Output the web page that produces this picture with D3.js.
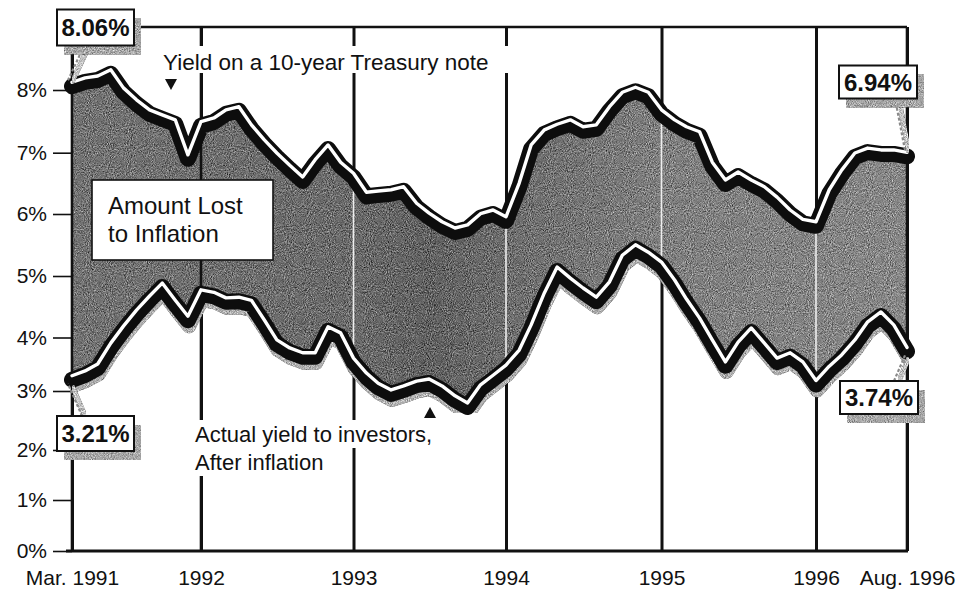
<!DOCTYPE html>
<html>
<head>
<meta charset="utf-8">
<script src="https://cdn.jsdelivr.net/npm/d3@7"></script>
<style>
  html, body { margin: 0; padding: 0; background: #fff; }
  svg { display: block; font-family: "Liberation Sans", Arial, Helvetica, sans-serif; }
</style>
</head>
<body>
<svg id="chart" width="963" height="590"></svg>
<script>
// Monthly observations, March 1991 through August 1996
const months = d3.timeMonth.range(new Date(1991, 2, 1), new Date(1996, 8, 1));

// Yield on a 10-year Treasury note (%)
const treasuryYield = [
  8.06, 8.13, 8.16, 8.26, 7.97, 7.78, 7.62, 7.54, 7.46, 6.90,
  7.43, 7.49, 7.62, 7.67, 7.38, 7.14, 6.93, 6.73, 6.54, 6.82, 7.06, 6.78,
  6.60, 6.29, 6.31, 6.33, 6.38, 6.11, 5.95, 5.81, 5.71, 5.76, 5.94, 6.00,
  5.89, 6.44, 7.06, 7.30, 7.39, 7.46, 7.35, 7.38, 7.67, 7.90, 7.98, 7.90,
  7.62, 7.46, 7.35, 7.27, 6.78, 6.49, 6.62, 6.49, 6.38, 6.21, 6.00, 5.85,
  5.81, 6.33, 6.65, 6.93, 7.01, 6.98, 6.98, 6.94
];

// Actual yield to investors after inflation (%)
const realYield = [
  3.21, 3.30, 3.43, 3.82, 4.12, 4.38, 4.61, 4.82, 4.54, 4.28,
  4.71, 4.67, 4.58, 4.59, 4.54, 4.22, 3.88, 3.73, 3.64, 3.64, 4.11, 4.01,
  3.54, 3.26, 3.07, 2.95, 3.02, 3.11, 3.15, 3.02, 2.85, 2.73, 3.04, 3.22,
  3.41, 3.69, 4.14, 4.66, 5.08, 4.90, 4.74, 4.59, 4.84, 5.27, 5.44, 5.32,
  5.16, 4.87, 4.56, 4.25, 3.88, 3.47, 3.84, 4.09, 3.82, 3.54, 3.64, 3.47,
  3.12, 3.39, 3.60, 3.88, 4.19, 4.35, 4.14, 3.74
];

// Axis ticks
const yearTicks = [
  new Date(1991, 2, 1), new Date(1992, 0, 1), new Date(1993, 0, 1),
  new Date(1994, 0, 1), new Date(1995, 0, 1), new Date(1996, 0, 1),
  new Date(1996, 7, 1)
];
const yearLabels = ["Mar. 1991", "1992", "1993", "1994", "1995", "1996", "Aug. 1996"];
const percentTicks = [0, 1, 2, 3, 4, 5, 6, 7, 8];

const data = months.map((d, i) => ({ date: d, top: treasuryYield[i], bottom: realYield[i] }));

// ---- layout ----
const plotLeft = 72, plotRight = 907, plotTop = 27, plotBottom = 551;

const x = d3.scaleTime()
  .domain(yearTicks)
  .range([72, 201, 353.5, 506, 661.5, 816, 907]);

// the printed percent scale is not evenly spaced, so map tick by tick
const y = d3.scaleLinear()
  .domain(percentTicks)
  .range([551, 500, 450, 391, 337.5, 276, 214, 152.7, 90]);

const svg = d3.select("#chart");
const defs = svg.append("defs");

// halftone-like grain: opaque grey noise added around the fill colour
const grain = defs.append("filter").attr("id", "grain")
  .attr("x", 0).attr("y", 0).attr("width", 1).attr("height", 1)
  .attr("color-interpolation-filters", "sRGB");
grain.append("feTurbulence").attr("type", "fractalNoise")
  .attr("baseFrequency", 0.95).attr("numOctaves", 2).attr("seed", 5).attr("result", "n");
grain.append("feColorMatrix").attr("in", "n").attr("type", "matrix")
  .attr("values", "0.33 0.33 0.33 0 0  0.33 0.33 0.33 0 0  0.33 0.33 0.33 0 0  0 0 0 0 1")
  .attr("result", "g");
grain.append("feComposite").attr("in", "SourceGraphic").attr("in2", "g")
  .attr("operator", "arithmetic").attr("k1", 0).attr("k2", 1).attr("k3", 1.4).attr("k4", -0.7).attr("result", "m");
grain.append("feComposite").attr("in", "m").attr("in2", "SourceGraphic").attr("operator", "in");

// shading of the band darkens through 1993 and lightens afterwards
const shade = defs.append("linearGradient").attr("id", "bandShade")
  .attr("gradientUnits", "userSpaceOnUse")
  .attr("x1", plotLeft).attr("x2", plotRight).attr("y1", 0).attr("y2", 0);
[
  [new Date(1991, 2, 1), "#747474"],
  [new Date(1993, 0, 1), "#6c6c6c"],
  [new Date(1993, 6, 1), "#626262"],
  [new Date(1994, 0, 1), "#6e6e6e"],
  [new Date(1995, 0, 1), "#808080"],
  [new Date(1996, 7, 1), "#888888"]
].forEach(([d, c]) => {
  shade.append("stop").attr("offset", (x(d) - plotLeft) / (plotRight - plotLeft)).attr("stop-color", c);
});

const band = d3.area()
  .x(d => x(d.date))
  .y0(d => y(d.bottom))
  .y1(d => y(d.top));

defs.append("clipPath").attr("id", "bandClip")
  .append("path").attr("d", band(data));

// ---- year grid lines and x axis ----
const xAxis = d3.axisBottom(x)
  .tickValues(yearTicks)
  .tickSizeInner(-(plotBottom - plotTop))
  .tickSizeOuter(0)
  .tickFormat((d, i) => yearLabels[i]);

const gx = svg.append("g").attr("transform", `translate(0,${plotBottom})`).call(xAxis);
gx.select(".domain").remove();
gx.selectAll(".tick line").attr("stroke", "#111").attr("stroke-width", 3);
gx.selectAll(".tick text")
  .attr("y", 34).attr("dy", 0)
  .attr("fill", "#111").attr("font-size", 21)
  .attr("font-family", "'Liberation Sans', Arial, sans-serif");

// ---- shaded band (amount lost to inflation) ----
svg.append("path")
  .attr("d", band(data))
  .attr("fill", "url(#bandShade)")
  .attr("filter", "url(#grain)");

// inside the band the later year rules show as pale lines
svg.append("g").attr("clip-path", "url(#bandClip)")
  .selectAll("line")
  .data(yearTicks.slice(2, 6))
  .join("line")
  .attr("x1", d => x(d)).attr("x2", d => x(d))
  .attr("y1", plotTop).attr("y2", plotBottom)
  .attr("stroke", "#eeeeee").attr("stroke-width", 1.6);

svg.append("g")
  .selectAll("line")
  .data([yearTicks[0], yearTicks[1], yearTicks[6]])
  .join("line")
  .attr("x1", d => x(d)).attr("x2", d => x(d))
  .attr("y1", plotTop).attr("y2", plotBottom)
  .attr("stroke", "#111").attr("stroke-width", 2.6);

// frame: top rule and baseline
svg.append("line").attr("x1", plotLeft).attr("x2", plotRight).attr("y1", plotTop).attr("y2", plotTop)
  .attr("stroke", "#111").attr("stroke-width", 2.4);
svg.append("line").attr("x1", 66).attr("x2", plotRight + 1).attr("y1", plotBottom).attr("y2", plotBottom)
  .attr("stroke", "#111").attr("stroke-width", 3);

// ---- y axis ----
const yAxis = d3.axisLeft(y)
  .tickValues(percentTicks)
  .tickSizeInner(19)
  .tickSizeOuter(0)
  .tickPadding(6)
  .tickFormat(d => d + "%");
const gy = svg.append("g").attr("transform", `translate(${plotLeft},0)`).call(yAxis);
gy.select(".domain").remove();
gy.selectAll(".tick line").attr("stroke", "#111").attr("stroke-width", 1.6);
gy.selectAll(".tick text")
  .attr("fill", "#111").attr("font-size", 21)
  .attr("font-family", "'Liberation Sans', Arial, sans-serif");

// ---- ribbon lines ----
const lineTop = d3.line().x(d => x(d.date)).y(d => y(d.top));
const lineBottom = d3.line().x(d => x(d.date)).y(d => y(d.bottom));

function ribbon(gen, withShadow) {
  const g = svg.append("g");
  if (withShadow) {
    g.append("path").attr("d", gen(data))
      .attr("transform", "translate(1,6)")
      .attr("fill", "none").attr("stroke", "#b0b0b0").attr("stroke-width", 14)
      .attr("stroke-linejoin", "round").attr("stroke-linecap", "round")
      .attr("filter", "url(#grain)");
  }
  g.append("path").attr("d", gen(data))
    .attr("fill", "none").attr("stroke", "#0d0d0d").attr("stroke-width", 16)
    .attr("stroke-linejoin", "round").attr("stroke-linecap", "round");
  g.append("path").attr("d", gen(data))
    .attr("transform", "translate(0,-4)")
    .attr("fill", "none").attr("stroke", "#ffffff").attr("stroke-width", 3.4)
    .attr("stroke-linejoin", "round").attr("stroke-linecap", "round");
}
ribbon(lineTop, false);
ribbon(lineBottom, true);

// ---- annotations ----
const fmt = v => d3.format(".2f")(v) + "%";
const first = data[0], last = data[data.length - 1];

function leader(x1, y1, x2, y2) {
  svg.append("line").attr("x1", x1 + 4).attr("y1", y1 + 2).attr("x2", x2 + 4).attr("y2", y2 + 2)
    .attr("stroke", "#c4c4c4").attr("stroke-width", 5).attr("filter", "url(#grain)");
  svg.append("line").attr("x1", x1).attr("y1", y1).attr("x2", x2).attr("y2", y2)
    .attr("stroke", "#8a8a8a").attr("stroke-width", 2.2).attr("stroke-dasharray", "3,2");
}

function valueBox(bx, by, bw, bh, value) {
  svg.append("rect").attr("x", bx + 7).attr("y", by + 9).attr("width", bw).attr("height", bh)
    .attr("fill", "#a8a8a8").attr("filter", "url(#grain)");
  svg.append("rect").attr("x", bx).attr("y", by).attr("width", bw).attr("height", bh)
    .attr("fill", "#fff").attr("stroke", "#111").attr("stroke-width", 2);
  svg.append("text").attr("x", bx + bw / 2).attr("y", by + bh / 2 + 8.5)
    .attr("text-anchor", "middle").attr("font-size", 24).attr("font-weight", "bold")
    .attr("fill", "#111").text(fmt(value));
}

leader(84, 46, x(first.date) - 4, y(first.top) - 6);
leader(82, 416, x(first.date) - 4, y(first.bottom) + 4);
leader(895, 98, x(last.date) - 2, y(last.top) - 6);
leader(894, 381, x(last.date) - 2, y(last.bottom) + 4);

valueBox(57, 9.5, 77, 36, first.top);
valueBox(57, 416, 77, 35, first.bottom);
valueBox(839, 65.5, 78, 33, last.top);
valueBox(840, 381, 78, 33, last.bottom);

// series captions with white knock-out behind the text
svg.append("rect").attr("x", 160).attr("y", 46).attr("width", 350).attr("height", 27).attr("fill", "#fff");
svg.append("text").attr("x", 163).attr("y", 70).attr("font-size", 22.5).attr("fill", "#111")
  .text("Yield on a 10-year Treasury note");
svg.append("path").attr("d", "M165,79 L177,79 L171,90 Z").attr("fill", "#111");

svg.append("rect").attr("x", 192).attr("y", 420).attr("width", 250).attr("height", 28).attr("fill", "#fff");
svg.append("rect").attr("x", 192).attr("y", 448).attr("width", 136).attr("height", 28).attr("fill", "#fff");
svg.append("text").attr("x", 195).attr("y", 442).attr("font-size", 22).attr("fill", "#111")
  .text("Actual yield to investors,");
svg.append("text").attr("x", 195).attr("y", 470).attr("font-size", 22).attr("fill", "#111")
  .text("After inflation");
svg.append("path").attr("d", "M424,418 L436,418 L430,407 Z").attr("fill", "#111");

// band caption
svg.append("rect").attr("x", 92).attr("y", 180).attr("width", 181).attr("height", 80)
  .attr("fill", "#fff").attr("stroke", "#111").attr("stroke-width", 1.6);
svg.append("text").attr("x", 108).attr("y", 214).attr("font-size", 24).attr("fill", "#111")
  .text("Amount Lost");
svg.append("text").attr("x", 108).attr("y", 242).attr("font-size", 24).attr("fill", "#111")
  .text("to Inflation");
</script>
</body>
</html>
